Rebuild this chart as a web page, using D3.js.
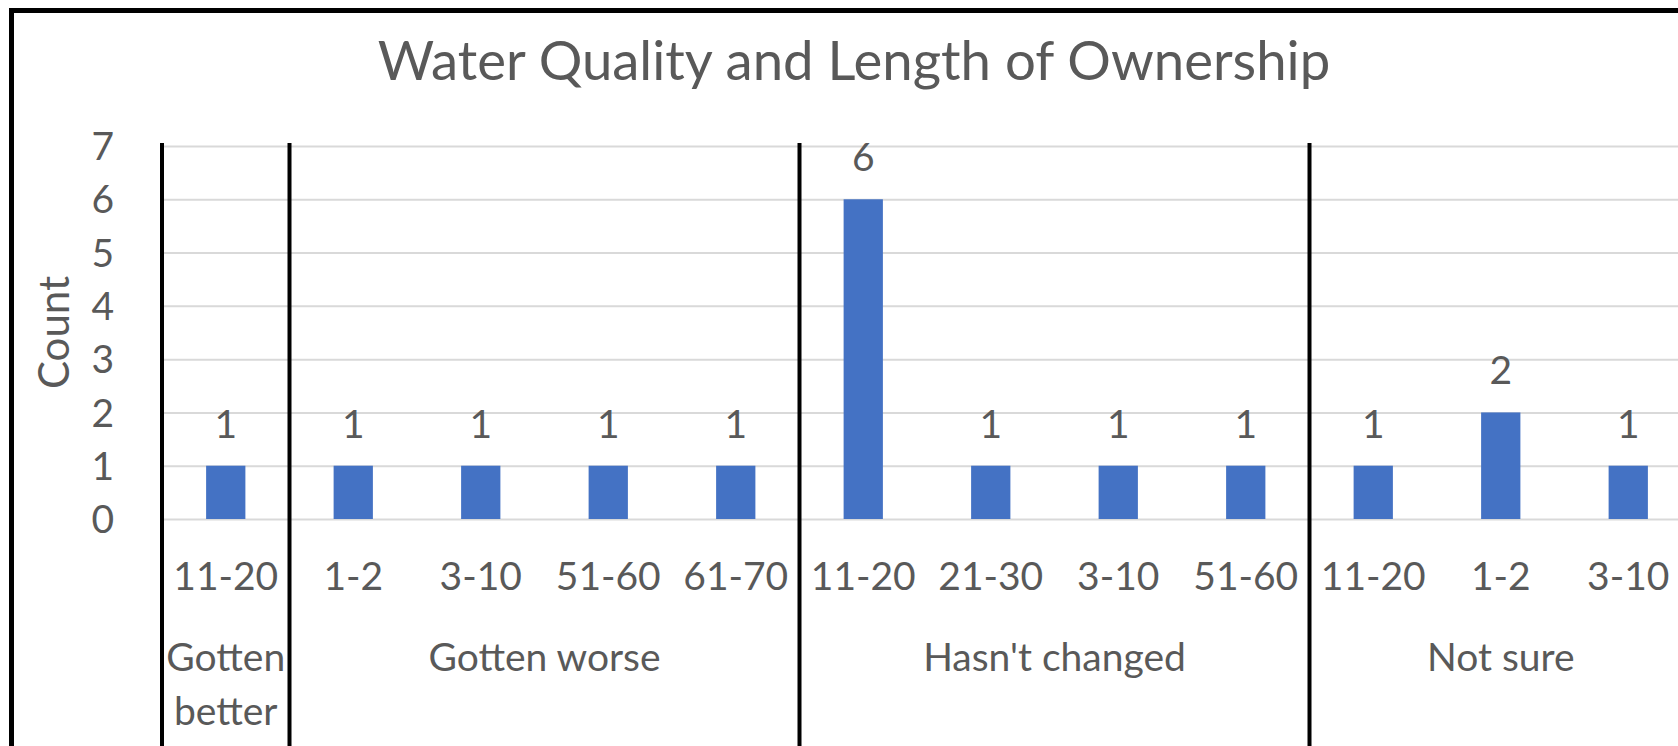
<!DOCTYPE html>
<html>
<head>
<meta charset="utf-8">
<script src="https://cdn.jsdelivr.net/npm/d3@7"></script>
<style>
  body { margin: 0; background: #fff; }
  text { font-family: Lato, "Open Sans", sans-serif; fill: #595959; }
</style>
</head>
<body>
<div id="chart"></div>
<script>
var w = 1678, h = 746;

// data
var groups = ["Gotten better", "Gotten worse", "Hasn't changed", "Not sure"];
var ageRanges = ["11-20", "1-2", "3-10", "51-60", "61-70", "11-20", "21-30", "3-10", "51-60", "11-20", "1-2", "3-10"];
var groupIndex = [0, 1, 1, 1, 1, 2, 2, 2, 2, 3, 3, 3];
var counts = [1, 1, 1, 1, 1, 6, 1, 1, 1, 1, 2, 1];
var yTicks = [0, 1, 2, 3, 4, 5, 6, 7];

var plotLeft = 162, band = 127.5;
var x = d3.scaleBand()
    .domain(d3.range(ageRanges.length))
    .range([plotLeft, plotLeft + band * ageRanges.length]);
var y = d3.scaleLinear().domain([0, 7]).range([519, 146]);
var barW = x.bandwidth() * 0.308;

var svg = d3.select("#chart").append("svg")
    .attr("width", w)
    .attr("height", h)

// outer frame (right / bottom edges are cut off in the picture)
svg.append("rect")
    .attr("x", 11.5).attr("y", 10.5)
    .attr("width", 3000).attr("height", 3000)
    .attr("fill", "none")
    .attr("stroke", "#000")
    .attr("stroke-width", 5);

svg.append("text")
    .attr("x", 854).attr("y", 80)
    .attr("text-anchor", "middle")
    .style("font-size", "54.5px")
    .text("Water Quality and Length of Ownership");

// gridlines
svg.append("g")
    .attr("transform", "translate(" + (plotLeft + 2) + ",0)")
    .call(d3.axisLeft(y).tickValues(yTicks).tickSize(-(x.range()[1] - plotLeft)).tickFormat(""))
    .call(function(g){ g.select(".domain").remove(); })
    .selectAll("line")
    .attr("stroke", "#d9d9d9")
    .attr("stroke-width", 2);

// y tick labels
var yAxis = svg.append("g")
    .attr("transform", "translate(114,0)")
    .call(d3.axisLeft(y).tickValues(yTicks).tickSize(0).tickPadding(0).tickFormat(d3.format("d")));
yAxis.select(".domain").remove();
yAxis.selectAll("text")
    .attr("fill", "#595959")
    .style("font-size", "39px")
    .attr("dy", "0.35em");

svg.append("text")
    .attr("transform", "translate(69," + ((y(0) + y(7)) / 2) + ") rotate(-90)")
    .attr("text-anchor", "middle")
    .style("font-size", "42px")
    .text("Count");

// bars
svg.selectAll(".bar")
    .data(counts)
    .enter().append("rect")
    .attr("class", "bar")
    .attr("x", function(d, i){ return x(i) + (x.bandwidth() - barW) / 2; })
    .attr("y", function(d){ return y(d); })
    .attr("width", barW)
    .attr("height", function(d){ return y(0) - y(d); })
    .attr("fill", "#4472c4");

// value labels
svg.selectAll(".val")
    .data(counts)
    .enter().append("text")
    .attr("class", "val")
    .attr("x", function(d, i){ return x(i) + x.bandwidth() / 2; })
    .attr("y", function(d){ return y(d) - 28; })
    .attr("text-anchor", "middle")
    .style("font-size", "39px")
    .text(function(d){ return d; });

// category labels
svg.selectAll(".cat")
    .data(ageRanges)
    .enter().append("text")
    .attr("class", "cat")
    .attr("x", function(d, i){ return x(i) + x.bandwidth() / 2; })
    .attr("y", 590)
    .attr("text-anchor", "middle")
    .style("font-size", "39px")
    .text(function(d){ return d; });

// group spans
var spans = groups.map(function(g, gi){
    var idx = d3.range(ageRanges.length).filter(function(i){ return groupIndex[i] == gi; });
    return { name: g, x0: x(idx[0]), x1: x(idx[idx.length - 1]) + x.bandwidth(), n: idx.length };
});

spans.forEach(function(s){
    var t = svg.append("text")
        .attr("x", (s.x0 + s.x1) / 2)
        .attr("y", 671)
        .attr("text-anchor", "middle")
        .style("font-size", "39px");
    // one-category group is too narrow, wrap it
    var words = s.n == 1 ? s.name.split(" ") : [s.name];
    words.forEach(function(wd, k){
        t.append("tspan")
            .attr("x", (s.x0 + s.x1) / 2)
            .attr("dy", k == 0 ? 0 : 54)
            .text(wd);
    });
});

// group dividers
var dividers = spans.map(function(s){ return s.x0; }).concat([spans[spans.length - 1].x1]);
svg.selectAll(".div")
    .data(dividers)
    .enter().append("line")
    .attr("class", "div")
    .attr("x1", function(d){ return d; })
    .attr("x2", function(d){ return d; })
    .attr("y1", 143)
    .attr("y2", h + 10)
    .attr("stroke", "#000")
    .attr("stroke-width", 4);
</script>
</body>
</html>
